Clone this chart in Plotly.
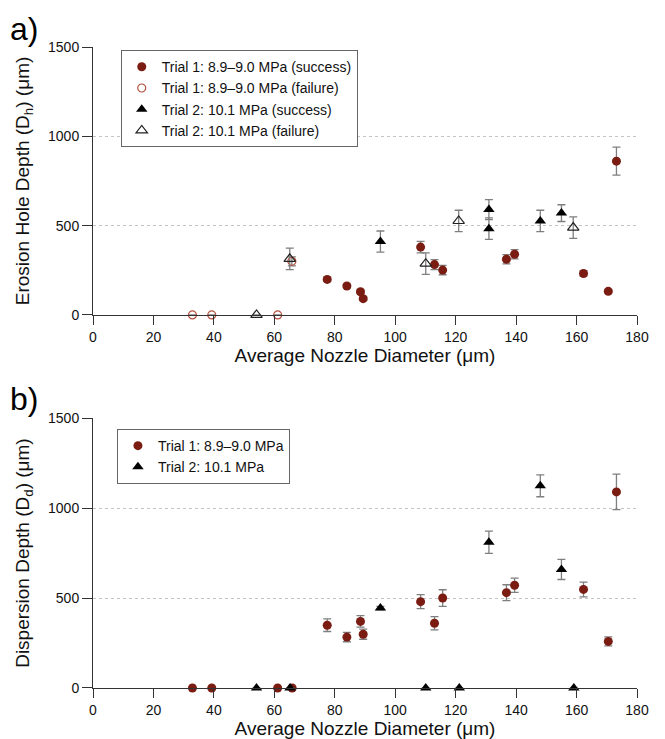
import plotly.graph_objects as go
from plotly.subplots import make_subplots

# ---- Panel a) Erosion hole depth ----
t1a_succ_x = [77.5, 84.0, 88.5, 89.4, 108.4, 113.0, 115.7, 136.8, 139.5, 162.3, 170.5, 173.2]
t1a_succ_y = [199, 162, 130, 91, 380, 282, 251, 312, 340, 232, 132, 861]
t1a_succ_err = [12, 10, 10, 10, 32, 28, 26, 26, 26, 15, 10, 78]

t1a_fail_x = [32.9, 39.3, 61.1, 65.8]
t1a_fail_y = [0, 0, 0, 300]
t1a_fail_err = [None, None, None, 25]

t2a_succ_x = [95.1, 131.0, 131.0, 148.0, 155.0]
t2a_succ_y = [411, 590, 483, 526, 570]
t2a_succ_err = [59, 56, 60, 60, 47]

t2a_fail_x = [54.1, 65.1, 110.1, 121.0, 158.9]
t2a_fail_y = [0, 314, 287, 526, 489]
t2a_fail_err = [None, 60, 60, 60, 60]

# ---- Panel b) Dispersion depth ----
t1b_x = [32.9, 39.3, 61.1, 65.9, 77.5, 84.0, 88.5, 89.4, 108.4, 113.0, 115.7, 136.8, 139.5, 162.3, 170.5, 173.2]
t1b_y = [0, 0, 0, 0, 349, 283, 370, 299, 480, 360, 500, 530, 571, 548, 259, 1090]
t1b_err = [None, None, None, None, 35, 26, 32, 28, 39, 37, 46, 44, 40, 41, 25, 99]

t2b_x = [54.1, 65.2, 95.1, 110.1, 121.2, 131.0, 148.0, 155.0, 159.1]
t2b_y = [0, 0, 444, 0, 0, 810, 1124, 659, 0]
t2b_err = [None, None, 10, None, None, 62, 61, 56, None]

x_ticks = [0, 20, 40, 60, 80, 100, 120, 140, 160, 180]
y_ticks = [0, 500, 1000, 1500]

RED = "#7a1c12"
OPEN_RED = "#b3503e"
ERR = "#7f7f7f"
FONT = "Liberation Sans, Arial, sans-serif"

fig = make_subplots(rows=2, cols=1, vertical_spacing=0.0)

def err(arr):
    return dict(type="data", array=arr, visible=True, color=ERR, thickness=1.3, width=4)

fig.add_trace(go.Scatter(x=t1a_succ_x, y=t1a_succ_y, mode="markers", name="Trial 1: 8.9–9.0 MPa (success)",
                         marker=dict(symbol="circle", size=9, color=RED, line=dict(width=0)),
                         error_y=err(t1a_succ_err), cliponaxis=False, legend="legend"), row=1, col=1)
fig.add_trace(go.Scatter(x=t1a_fail_x, y=t1a_fail_y, mode="markers", name="Trial 1: 8.9–9.0 MPa (failure)",
                         marker=dict(symbol="circle-open", size=8, color=OPEN_RED, line=dict(width=1.2, color=OPEN_RED)),
                         error_y=err(t1a_fail_err), cliponaxis=False, legend="legend"), row=1, col=1)
fig.add_trace(go.Scatter(x=t2a_succ_x, y=t2a_succ_y, mode="markers", name="Trial 2: 10.1 MPa (success)",
                         marker=dict(symbol="triangle-up", size=10, color="black", line=dict(width=0)),
                         error_y=err(t2a_succ_err), cliponaxis=False, legend="legend"), row=1, col=1)
fig.add_trace(go.Scatter(x=t2a_fail_x, y=t2a_fail_y, mode="markers", name="Trial 2: 10.1 MPa (failure)",
                         marker=dict(symbol="triangle-up-open", size=10, color="#222222", line=dict(width=1.2, color="#222222")),
                         error_y=err(t2a_fail_err), cliponaxis=False, legend="legend"), row=1, col=1)

fig.add_trace(go.Scatter(x=t1b_x, y=t1b_y, mode="markers", name="Trial 1: 8.9–9.0 MPa",
                         marker=dict(symbol="circle", size=9, color=RED, line=dict(width=0)),
                         error_y=err(t1b_err), cliponaxis=False, legend="legend2"), row=2, col=1)
fig.add_trace(go.Scatter(x=t2b_x, y=t2b_y, mode="markers", name="Trial 2: 10.1 MPa",
                         marker=dict(symbol="triangle-up", size=10, color="black", line=dict(width=0)),
                         error_y=err(t2b_err), cliponaxis=False, legend="legend2"), row=2, col=1)

xaxis_common = dict(range=[0, 180], tickvals=x_ticks, showline=True, linecolor="#333333", linewidth=1,
                    ticks="outside", ticklen=9, tickcolor="#333333", showgrid=False, zeroline=False,
                    automargin=False,
                    tickfont=dict(size=14, color="#111111", family=FONT),
                    title=dict(text="Average Nozzle Diameter (μm)", font=dict(size=19, color="#111111", family=FONT), standoff=4))
yaxis_common = dict(range=[0, 1500], tickvals=y_ticks, showline=True, linecolor="#333333", linewidth=1,
                    ticks="outside", ticklen=10, tickcolor="#333333", showgrid=True, gridcolor="#c4c4c4",
                    griddash="dot", gridwidth=1, zeroline=False, automargin=False,
                    tickfont=dict(size=14, color="#111111", family=FONT))

fig.update_xaxes(**xaxis_common)
fig.update_yaxes(**yaxis_common)
fig.update_yaxes(title=dict(text="Erosion Hole Depth (D<sub>h</sub>) (μm)", font=dict(size=19, color="#111111", family=FONT), standoff=13), row=1, col=1)
fig.update_yaxes(title=dict(text="Dispersion Depth (D<sub>d</sub>) (μm)", font=dict(size=19, color="#111111", family=FONT), standoff=13), row=2, col=1)

# The page body adds an 8px offset, so the figure is 8px smaller with margins reduced accordingly.
fig.update_layout(
    width=657, height=731,
    margin=dict(l=85, r=28, t=39, b=51, autoexpand=False),
    plot_bgcolor="white", paper_bgcolor="white",
    font=dict(family=FONT, color="#111111"),
    xaxis=dict(domain=[0, 1]), yaxis=dict(domain=[0.582, 1.0]),
    xaxis2=dict(domain=[0, 1]), yaxis2=dict(domain=[0.0, 0.421]),
    legend=dict(x=0.051, y=0.995, xanchor="left", yanchor="top", bgcolor="white",
                bordercolor="#666666", borderwidth=1, font=dict(size=14, family=FONT, color="#111111"),
                itemwidth=30, tracegroupgap=0),
    legend2=dict(x=0.044, y=0.404, xanchor="left", yanchor="top", bgcolor="white",
                 bordercolor="#666666", borderwidth=1, font=dict(size=14, family=FONT, color="#111111"),
                 itemwidth=30, tracegroupgap=0),
    showlegend=True,
    annotations=[
        dict(text="a)", xref="paper", yref="paper", x=-0.156, y=1.0587, xanchor="left", yanchor="top",
             showarrow=False, font=dict(size=32, family=FONT, color="black")),
        dict(text="b)", xref="paper", yref="paper", x=-0.156, y=0.4816, xanchor="left", yanchor="top",
             showarrow=False, font=dict(size=32, family=FONT, color="black")),
    ],
)

fig.write_html("out.html")
